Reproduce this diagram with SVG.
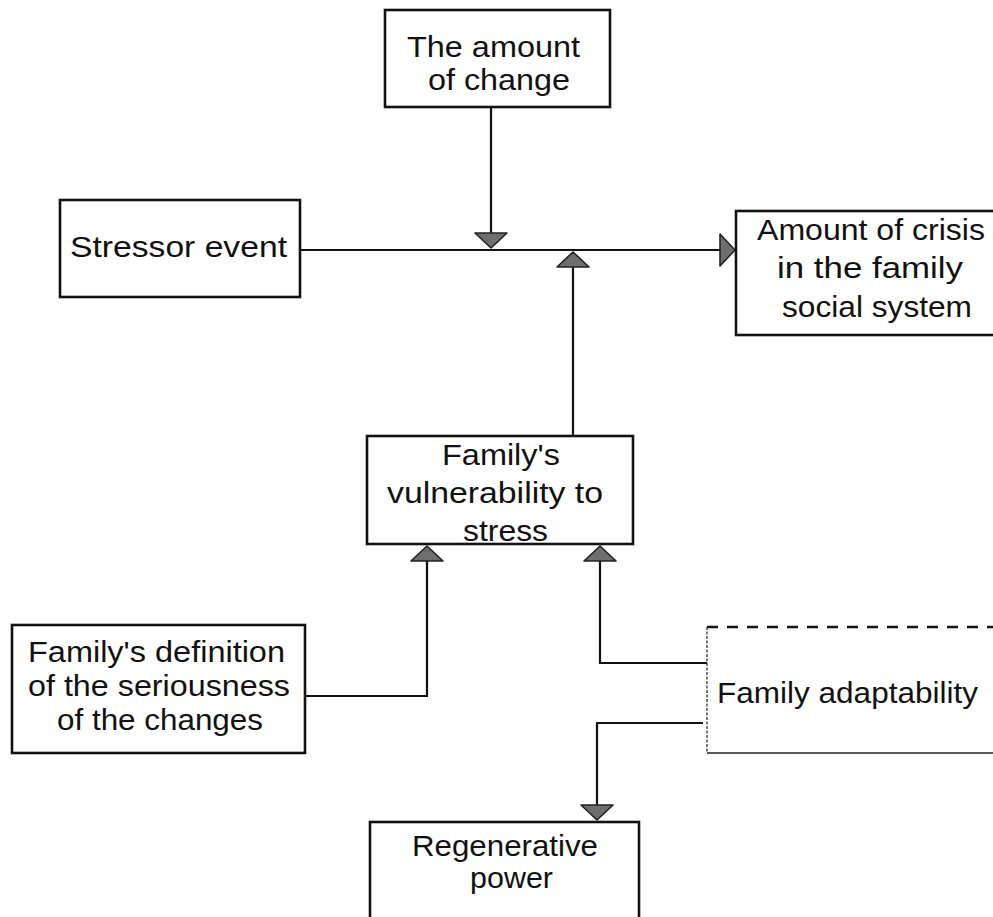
<svg xmlns="http://www.w3.org/2000/svg" width="993" height="917" viewBox="0 0 993 917">
<style>
.box{fill:#fff;stroke:#111;stroke-width:2.6}
.t{font-family:"Liberation Sans",Arial,Helvetica,sans-serif;font-size:29px;fill:#111;text-anchor:middle}
.s{text-anchor:start}
.c{fill:none;stroke:#111;stroke-width:2.2}
</style>
<defs>
<marker id="ah" viewBox="-1 -18 18 36" markerUnits="userSpaceOnUse" markerWidth="18" markerHeight="36" refX="15" refY="0" orient="auto">
<path d="M0,-16 L15,0 L0,16 Z" fill="#6e6e6e" stroke="#222" stroke-width="1.6" stroke-linejoin="round"/>
</marker>
</defs>
<rect width="993" height="917" fill="#fff"/>
<g id="connectors">
<path class="c" d="M491,107 L491,248" marker-end="url(#ah)"/>
<path class="c" d="M300,250 L735,250" marker-end="url(#ah)"/>
<path class="c" d="M573,436 L573,252" marker-end="url(#ah)"/>
<path class="c" d="M305,696 L427,696 L427,546" marker-end="url(#ah)"/>
<path class="c" d="M707,663 L600,663 L600,546" marker-end="url(#ah)"/>
<path class="c" d="M703,723 L597,723 L597,820" marker-end="url(#ah)"/>
</g>
<g id="amount-of-change">
<rect class="box" x="385" y="10" width="225" height="97"/>
<text class="t" x="493.5" y="57" textLength="173" lengthAdjust="spacingAndGlyphs">The amount</text>
<text class="t" x="499" y="90" textLength="142" lengthAdjust="spacingAndGlyphs">of change</text>
</g>
<g id="stressor-event">
<rect class="box" x="60" y="200" width="240" height="97"/>
<text class="t" x="178.5" y="257" textLength="217" lengthAdjust="spacingAndGlyphs">Stressor event</text>
</g>
<g id="amount-of-crisis">
<rect class="box" x="736" y="211" width="290" height="124"/>
<text class="t" x="871" y="240" textLength="228" lengthAdjust="spacingAndGlyphs">Amount of crisis</text>
<text class="t" x="870" y="278" textLength="186" lengthAdjust="spacingAndGlyphs">in the family</text>
<text class="t" x="877" y="317" textLength="190" lengthAdjust="spacingAndGlyphs">social system</text>
</g>
<g id="vulnerability">
<rect class="box" x="367" y="436" width="266" height="108"/>
<text class="t" x="501" y="465" textLength="118" lengthAdjust="spacingAndGlyphs">Family's</text>
<text class="t" x="495" y="503" textLength="216" lengthAdjust="spacingAndGlyphs">vulnerability to</text>
<text class="t" x="505.5" y="541" textLength="85" lengthAdjust="spacingAndGlyphs">stress</text>
</g>
<g id="definition">
<rect class="box" x="12" y="625" width="293" height="128"/>
<text class="t" x="156.5" y="662" textLength="257" lengthAdjust="spacingAndGlyphs">Family's definition</text>
<text class="t" x="159" y="696" textLength="262" lengthAdjust="spacingAndGlyphs">of the seriousness</text>
<text class="t" x="160" y="730" textLength="206" lengthAdjust="spacingAndGlyphs">of the changes</text>
</g>
<g id="adaptability">
<rect x="707" y="627" width="300" height="126" fill="#fff"/>
<path d="M707,627 L993,627" fill="none" stroke="#111" stroke-width="2.6" stroke-dasharray="11,9"/>
<path d="M707,627 L707,753" fill="none" stroke="#333" stroke-width="1.3" stroke-dasharray="3,1.5"/>
<path d="M707,753 L993,753" fill="none" stroke="#222" stroke-width="1.5"/>
<text class="t s" x="717" y="703" textLength="261" lengthAdjust="spacingAndGlyphs">Family adaptability</text>
</g>
<g id="regenerative-power">
<rect class="box" x="370" y="822" width="269" height="120"/>
<text class="t" x="505" y="856" textLength="186" lengthAdjust="spacingAndGlyphs">Regenerative</text>
<text class="t" x="511.5" y="888" textLength="83" lengthAdjust="spacingAndGlyphs">power</text>
</g>
</svg>
